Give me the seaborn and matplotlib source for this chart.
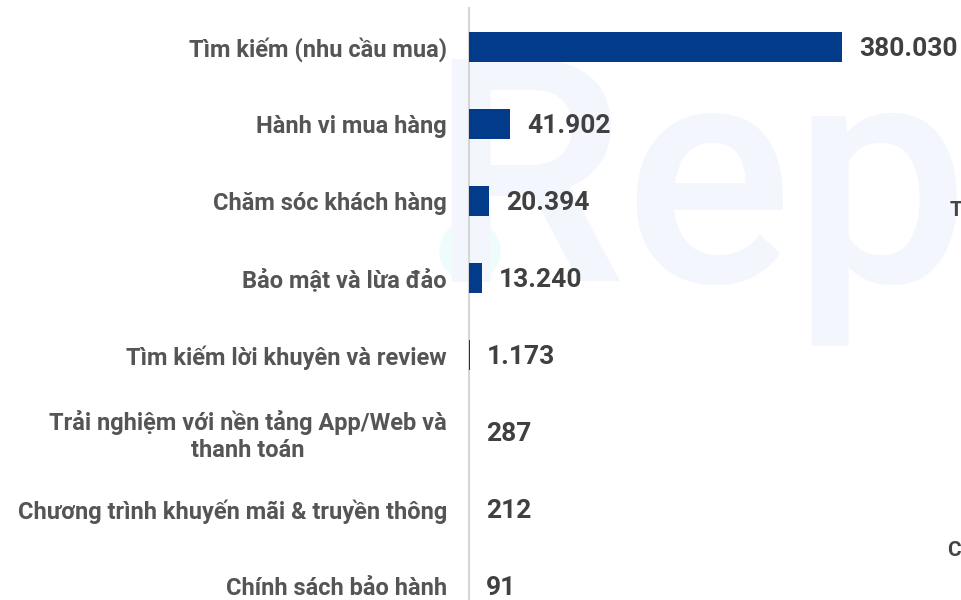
import matplotlib
matplotlib.use("Agg")
import matplotlib.pyplot as plt
from matplotlib.patches import Circle
import seaborn as sns

# Dữ liệu
categories = [
    "Tìm kiếm (nhu cầu mua)",
    "Hành vi mua hàng",
    "Chăm sóc khách hàng",
    "Bảo mật và lừa đảo",
    "Tìm kiếm lời khuyên và review",
    "Trải nghiệm với nền tảng App/Web và\nthanh toán",
    "Chương trình khuyến mãi & truyền thông",
    "Chính sách bảo hành",
]
values = [380030, 41902, 20394, 13240, 1173, 287, 212, 91]
value_labels = ["380.030", "41.902", "20.394", "13.240", "1.173", "287", "212", "91"]

sns.set_style("white")
plt.rcParams['font.family'] = ['Roboto', 'DejaVu Sans']

W, H = 961, 600
fig = plt.figure(figsize=(W / 100, H / 100), dpi=100)

# watermark phía sau (axes nền riêng)
bg = fig.add_axes([0, 0, 1, 1], zorder=0)
bg.axis('off')
bg.set_xlim(0, W)
bg.set_ylim(H, 0)
bg.text(428, 282, "Rep", fontsize=226, fontweight='medium', color='#f3f7fd')
bg.add_patch(Circle((470, 251), 30, color='#effcfc'))

ax = fig.add_axes([469 / W, -24.5 / H, (W - 469) / W, 616.5 / H], zorder=2)
ax.patch.set_alpha(0)
sns.barplot(x=values, y=categories, color='#033b8b', saturation=1, width=0.39, ax=ax,
            linewidth=0, zorder=3)

ax.set_xlim(0, 501000)
ax.set_ylim(7.5, -0.5)
ax.set_xlabel("")
ax.set_ylabel("")
ax.set_xticks([])
for s in ['top', 'right', 'bottom']:
    ax.spines[s].set_visible(False)
ax.spines['left'].set_color('#d6d6d6')
ax.spines['left'].set_linewidth(1.5)

ax.tick_params(axis='y', length=0, pad=16)
for lbl in ax.get_yticklabels():
    lbl.set_fontsize(17)
    lbl.set_fontweight('bold')
    lbl.set_color('#555555')
    lbl.set_multialignment('center')

for i, (v, t) in enumerate(zip(values, value_labels)):
    ax.annotate(t, (v, i), xytext=(12, -1.5), textcoords='offset points',
                ha='left', va='center', fontsize=19, fontweight='bold', color='#404040')

# chữ bị cắt ở mép phải
fig.text(950 / W, 1 - 210 / H, "T", fontsize=15, fontweight='bold', color='#444444', va='center')
fig.text(947 / W, 1 - 551 / H, "C", fontsize=15, fontweight='bold', color='#444444', va='center')

fig.savefig("out.png", dpi=100)
